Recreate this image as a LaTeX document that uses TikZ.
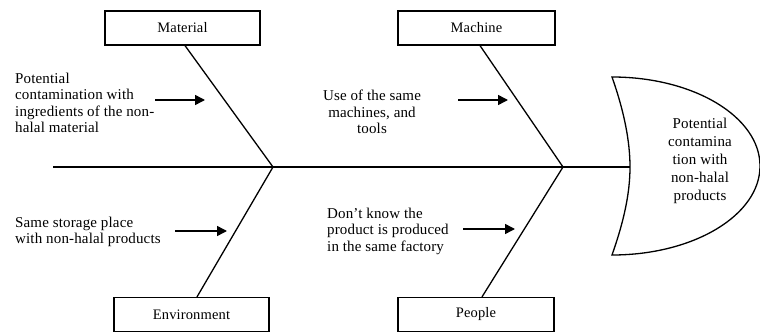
\documentclass[tikz,border=0pt]{standalone}
\usepackage{fontspec}
\setmainfont[LetterSpace=1]{Liberation Serif}
\usetikzlibrary{arrows.meta}
\tikzset{
  catbox/.style={draw, line width=1.2pt, minimum width=155pt, minimum height=34pt,
    inner sep=0pt, font=\fontsize{14.5}{17}\selectfont},
  cause/.style={align=left, inner sep=0pt, font=\fontsize{15}{16.5}\selectfont},
  bone/.style={line width=1.3pt},
  push/.style={line width=1.5pt, -{Triangle[length=10pt,width=10pt]}},
}
\begin{document}
\begin{tikzpicture}[x=1pt,y=1pt]
\useasboundingbox (0,0) rectangle (760,333);

% category boxes
\node[catbox] (mat) at (182.5,305) {Material};
\node[catbox, minimum width=157pt] (mac) at (476.5,305) {Machine};
\node[catbox] (env) at (191.5,18.5) {Environment};
\node[catbox, minimum width=156pt] (ppl) at (476,18.5) {People};

% spine and bones
\coordinate (tail) at (53,166);
\coordinate (j1) at (273,166);
\coordinate (j2) at (563,166);
\coordinate (neck) at (630,166);
\draw[bone] (tail) -- (neck);
\draw[bone] ([xshift=2.5pt]mat.south) -- (j1);
\draw[bone] ([xshift=5.5pt]env.north) -- (j1);
\draw[bone] ([xshift=3.5pt]mac.south) -- (j2);
\draw[bone] ([xshift=6pt]ppl.north) -- (j2);

% fish head
\coordinate (htop) at (612,256);
\coordinate (hbot) at (612,78);
\draw[bone] (htop) arc[start angle=90, end angle=-90, x radius=148, y radius=89]
  .. controls (624,112) and (630,140) .. (neck)
  .. controls (630,192) and (624,222) .. (htop) -- cycle;
\node[align=center, inner sep=0pt, font=\fontsize{15}{18}\selectfont] (effect) at (700,172)
  {Potential\\contamina\\tion with\\non-halal\\products};

% causes
\node[cause, anchor=west] (c1) at (15,230)
  {Potential\\contamination with\\ingredients of the non-\\halal material};
\node[cause, align=center] (c2) at (372,221)
  {Use of the same\\machines, and\\tools};
\node[cause, anchor=west] (c3) at (15,101)
  {Same storage place\\with non-halal products};
\node[cause, anchor=west] (c4) at (327,102)
  {Don't know the\\product is produced\\in the same factory};

% arrows pointing at the bones
\coordinate (a1s) at (155,233); \coordinate (a1e) at (205,233);
\coordinate (a2s) at (458,233); \coordinate (a2e) at (508,233);
\coordinate (a3s) at (175,102); \coordinate (a3e) at (227,102);
\coordinate (a4s) at (463,104); \coordinate (a4e) at (515,104);
\draw[push] (a1s) -- (a1e);
\draw[push] (a2s) -- (a2e);
\draw[push] (a3s) -- (a3e);
\draw[push] (a4s) -- (a4e);
\end{tikzpicture}
\end{document}
